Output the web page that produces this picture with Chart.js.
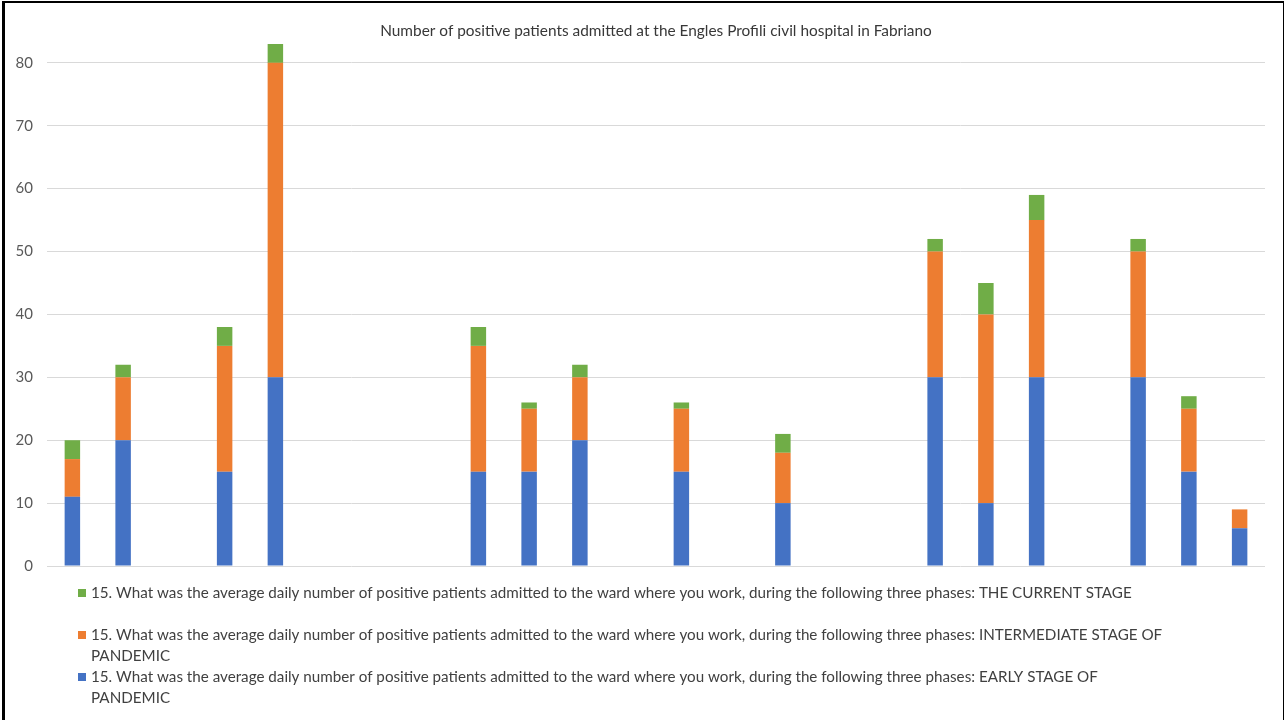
<!DOCTYPE html>
<html>
<head>
<meta charset="utf-8">
<title>Positive patients admitted – Engles Profili civil hospital, Fabriano</title>
<script src="https://cdn.jsdelivr.net/npm/chart.js@4/dist/chart.umd.min.js"></script>
<style>
  html, body { margin: 0; padding: 0; background: #ffffff; }
  #wrap { position: relative; width: 1284px; height: 720px; }
  #frame {
    position: absolute; left: 2px; top: 1px; width: 1278px; height: 717px;
    border-left: 3px solid #000; border-top: 2px solid #000;
    border-right: 2px solid #000; border-bottom: 1px solid #d4d4d4;
    pointer-events: none;
  }
  canvas { position: absolute; left: 0; top: 0; }
</style>
</head>
<body>
<div id="wrap">
  <canvas id="chart" width="1284" height="720"></canvas>
  <div id="frame"></div>
</div>
<script>
// Respondents (one stacked column each; blanks gave no answer)
const respondents = ['1','2','3','4','5','6','7','8','9','10','11','12',
                     '13','14','15','16','17','18','19','20','21','22','23','24'];

// Average daily number of positive patients admitted, by phase
const earlyStage        = [11, 20, null, 15, 30, null, null, null, 15, 15, 20, null,
                           15, null, 10, null, null, 30, 10, 30, null, 30, 15, 6];
const intermediateStage = [6, 10, null, 20, 50, null, null, null, 20, 10, 10, null,
                           10, null, 8, null, null, 20, 30, 25, null, 20, 10, 3];
const currentStage      = [3, 2, null, 3, 3, null, null, null, 3, 1, 2, null,
                           1, null, 3, null, null, 2, 5, 4, null, 2, 2, 0];

const yTicks = [0, 10, 20, 30, 40, 50, 60, 70, 80];

const chartTitle = 'Number of positive patients admitted at the Engles Profili civil hospital in Fabriano';

const QUESTION = '15. What was the average daily number of positive patients admitted to the ward where you work, during the following three phases: ';
const seriesLabels = {
  early: QUESTION + 'EARLY STAGE OF PANDEMIC',
  intermediate: QUESTION + 'INTERMEDIATE STAGE OF PANDEMIC',
  current: QUESTION + 'THE CURRENT STAGE'
};

const FONT = 'Lato, "Liberation Sans", sans-serif';

// Word-wrap helper for the legend entries
function wrapText(ctx, text, maxWidth) {
  const words = text.split(' ');
  const lines = [];
  let line = '';
  for (const w of words) {
    const test = line ? line + ' ' + w : w;
    if (ctx.measureText(test).width > maxWidth && line) {
      lines.push(line);
      line = w;
    } else {
      line = test;
    }
  }
  if (line) lines.push(line);
  return lines;
}

// Title centred over the plot area
const plotTitle = {
  id: 'plotTitle',
  afterDraw(chart, args, opts) {
    const ctx = chart.ctx;
    const area = chart.chartArea;
    ctx.save();
    ctx.font = opts.fontSize + 'px ' + FONT;
    ctx.fillStyle = opts.color;
    ctx.textAlign = 'center';
    ctx.textBaseline = 'middle';
    ctx.fillText(opts.text, (area.left + area.right) / 2, opts.y);
    ctx.restore();
  }
};

// Legend listed top series first, one row per series, long labels wrapped
const wrappedLegend = {
  id: 'wrappedLegend',
  afterDraw(chart, args, opts) {
    const ctx = chart.ctx;
    const items = chart.data.datasets.map(ds => ({ text: ds.label, color: ds.backgroundColor })).reverse();
    ctx.save();
    ctx.font = opts.fontSize + 'px ' + FONT;
    ctx.textBaseline = 'middle';
    ctx.textAlign = 'left';
    let y = chart.chartArea.bottom + opts.firstRowOffset;
    items.forEach(item => {
      ctx.fillStyle = item.color;
      ctx.fillRect(opts.left, y - opts.box / 2, opts.box, opts.box);
      ctx.fillStyle = opts.color;
      const lines = wrapText(ctx, item.text, opts.maxWidth);
      lines.forEach((ln, k) => ctx.fillText(ln, opts.left + opts.box + 5, y + k * opts.lineHeight));
      y += opts.rowStep;
    });
    ctx.restore();
  }
};

new Chart(document.getElementById('chart'), {
  type: 'bar',
  data: {
    labels: respondents,
    datasets: [
      { label: seriesLabels.early, data: earlyStage, backgroundColor: '#4472C4' },
      { label: seriesLabels.intermediate, data: intermediateStage, backgroundColor: '#ED7D31' },
      { label: seriesLabels.current, data: currentStage, backgroundColor: '#70AD47' }
    ]
  },
  options: {
    responsive: false,
    animation: false,
    devicePixelRatio: 1,
    datasets: { bar: { categoryPercentage: 1.0, barPercentage: 0.305 } },
    layout: { padding: { left: 0, right: 19, top: 44, bottom: 154 } },
    scales: {
      x: { stacked: true, display: false },
      y: {
        stacked: true,
        min: 0,
        max: 83,
        ticks: {
          stepSize: 10,
          padding: 14,
          color: '#595959',
          font: { family: FONT, size: 15 }
        },
        afterBuildTicks(scale) {
          scale.ticks = yTicks.map(v => ({ value: v }));
        },
        afterFit(scale) { scale.width = 47; },
        grid: { color: '#d9d9d9', lineWidth: 1, drawTicks: false },
        border: { display: false }
      }
    },
    plugins: {
      legend: { display: false },
      tooltip: { enabled: false },
      title: { display: false },
      plotTitle: {
        text: chartTitle,
        fontSize: 15.4,
        color: '#383838',
        y: 31
      },
      wrappedLegend: {
        left: 78,
        box: 8,
        fontSize: 15.2,
        color: '#404040',
        maxWidth: 1075,
        firstRowOffset: 27,
        rowStep: 42,
        lineHeight: 21
      }
    }
  },
  plugins: [plotTitle, wrappedLegend]
});
</script>
</body>
</html>
